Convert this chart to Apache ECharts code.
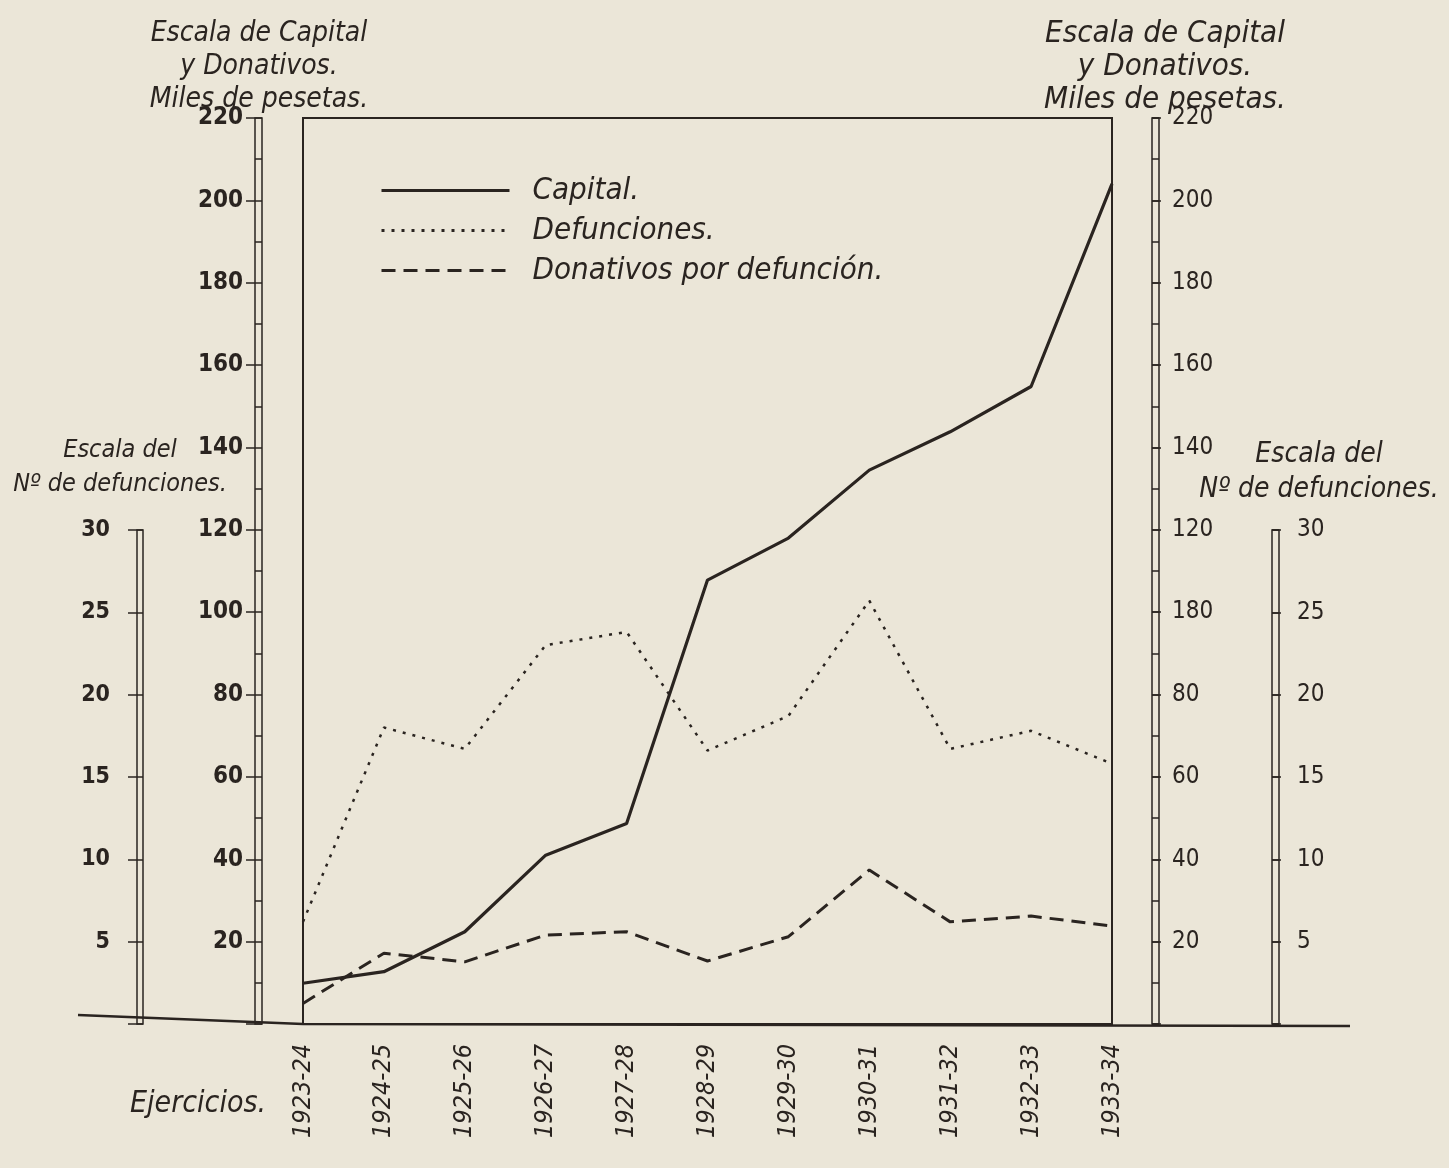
<!DOCTYPE html>
<html>
<head>
<meta charset="utf-8">
<script src="https://cdn.jsdelivr.net/npm/echarts@6/dist/echarts.min.js"></script>
<style>
  html, body { margin: 0; padding: 0; background: #ebe6d8; }
  #chart { width: 1449px; height: 1168px; }
</style>
</head>
<body>
<div id="chart"></div>
<script>
// ejercicios
const ejercicios = ['1923-24', '1924-25', '1925-26', '1926-27', '1927-28', '1928-29',
  '1929-30', '1930-31', '1931-32', '1932-33', '1933-34']
// miles de pesetas
const capital = [9.9, 12.7, 22.4, 41.0, 48.7, 107.8, 118.0, 134.5, 143.8, 154.8, 204]
// numero de defunciones
const defunciones = [6.2, 18.0, 16.7, 23.0, 23.8, 16.6, 18.7, 25.7, 16.7, 17.8, 15.8]
// miles de pesetas
const donativos = [5.0, 17.2, 15.1, 21.6, 22.4, 15.3, 21.2, 37.4, 24.8, 26.2, 23.8]

const ink = '#2a2420'
const font = "'DejaVu Sans Condensed', 'DejaVu Sans', sans-serif"

const chart = echarts.init(document.getElementById('chart'))

// tira de eje (doble linea) con sus marcas
const stripAxis = (grid, pos, max, interval, minor, labelFmt, weight, size, margin) => ({
  type: 'value',
  gridIndex: grid,
  position: pos,
  min: 0,
  max: max,
  interval: interval,
  axisLine: { show: false },
  axisTick: { show: true, length: 9, lineStyle: { color: ink, width: 1.5 } },
  minorTick: { show: false, splitNumber: minor },
  splitLine: { show: true, lineStyle: { color: ink, width: 1.5 } },
  minorSplitLine: { show: minor > 1, lineStyle: { color: ink, width: 1.5 } },
  axisLabel: {
    margin: margin,
    color: ink,
    fontFamily: font,
    fontSize: size,
    fontWeight: weight,
    formatter: labelFmt
  }
})

const hideZero = v => (v === 0 ? '' : String(v))
// la escala derecha del original rotula 100 como "180"
const rightCapital = v => (v === 0 ? '' : v === 100 ? '180' : String(v))

const titleStyle = (size, lh) => ({
  fontFamily: font, fontStyle: 'italic', fontWeight: 'normal', fontSize: size, lineHeight: lh, color: ink
})

const option = {
  backgroundColor: '#ebe6d8',
  animation: false,
  title: [
    {
      text: 'Escala de Capital\ny Donativos.\nMiles de pesetas.',
      left: 254, top: 12, textAlign: 'center',
      textStyle: titleStyle(28, 33)
    },
    {
      text: 'Escala de Capital\ny Donativos.\nMiles de pesetas.',
      left: 1160, top: 12, textAlign: 'center',
      textStyle: titleStyle(31, 33)
    },
    {
      text: 'Escala del\nNº de defunciones.',
      left: 115, top: 428, textAlign: 'center',
      textStyle: titleStyle(25, 34)
    },
    {
      text: 'Escala del\nNº de defunciones.',
      left: 1314, top: 432, textAlign: 'center',
      textStyle: titleStyle(28, 35)
    },
    {
      text: 'Ejercicios.',
      left: 125, top: 1082,
      textStyle: titleStyle(30, 34)
    }
  ],
  legend: {
    orient: 'vertical',
    left: 375,
    top: 170,
    itemWidth: 128,
    itemHeight: 12,
    itemGap: 9,
    itemStyle: { opacity: 0 },
    lineStyle: { width: 3 },
    textStyle: { fontFamily: font, fontStyle: 'italic', fontSize: 31, color: ink, padding: [0, 0, 0, 18] },
    data: ['Capital.', 'Defunciones.', 'Donativos por defunción.']
  },
  grid: [
    { left: 303, top: 118, width: 809, height: 906, show: true, borderColor: ink, borderWidth: 2 },
    { left: 255, top: 118, width: 7, height: 906, show: true, borderColor: ink, borderWidth: 1.5 },
    { left: 1152, top: 118, width: 7, height: 906, show: true, borderColor: ink, borderWidth: 1.5 },
    { left: 137, top: 530, width: 6, height: 494, show: true, borderColor: ink, borderWidth: 1.5 },
    { left: 1272, top: 530, width: 7, height: 494, show: true, borderColor: ink, borderWidth: 1.5 }
  ],
  xAxis: [
    {
      type: 'category',
      gridIndex: 0,
      data: ejercicios,
      boundaryGap: false,
      axisLine: { show: false },
      axisTick: { show: false },
      axisLabel: {
        rotate: 90,
        margin: 20,
        color: ink,
        fontFamily: font,
        fontStyle: 'italic',
        fontSize: 25
      }
    },
    { type: 'value', gridIndex: 1, show: false },
    { type: 'value', gridIndex: 2, show: false },
    { type: 'value', gridIndex: 3, show: false },
    { type: 'value', gridIndex: 4, show: false }
  ],
  yAxis: [
    { type: 'value', gridIndex: 0, min: 0, max: 220, show: false, splitLine: { show: false } },
    { type: 'value', gridIndex: 0, min: 0, max: 55, show: false, splitLine: { show: false } },
    stripAxis(1, 'left', 220, 20, 2, hideZero, 'bold', 24, 12),
    stripAxis(2, 'right', 220, 20, 2, rightCapital, 'normal', 24, 13),
    stripAxis(3, 'left', 30, 5, 1, hideZero, 'bold', 23, 27),
    stripAxis(4, 'right', 30, 5, 1, hideZero, 'normal', 24, 18)
  ],
  graphic: [
    {
      type: 'polyline',
      shape: { points: [[78, 1015], [303, 1024], [1350, 1026]] },
      style: { stroke: ink, lineWidth: 2.5, fill: null },
      z: 10
    }
  ],
  series: [
    {
      name: 'Capital.',
      type: 'line',
      xAxisIndex: 0,
      yAxisIndex: 0,
      data: capital,
      symbol: 'none',
      lineStyle: { color: ink, width: 3.2 },
      itemStyle: { color: ink }
    },
    {
      name: 'Defunciones.',
      type: 'line',
      xAxisIndex: 0,
      yAxisIndex: 1,
      data: defunciones,
      symbol: 'none',
      lineStyle: { color: ink, width: 2.5, type: [3, 7] },
      itemStyle: { color: ink }
    },
    {
      name: 'Donativos por defunción.',
      type: 'line',
      xAxisIndex: 0,
      yAxisIndex: 0,
      data: donativos,
      symbol: 'none',
      lineStyle: { color: ink, width: 3, type: [14, 8] },
      itemStyle: { color: ink }
    }
  ]
}

chart.setOption(option)
window.addEventListener('resize', () => chart.resize())
</script>
</body>
</html>
